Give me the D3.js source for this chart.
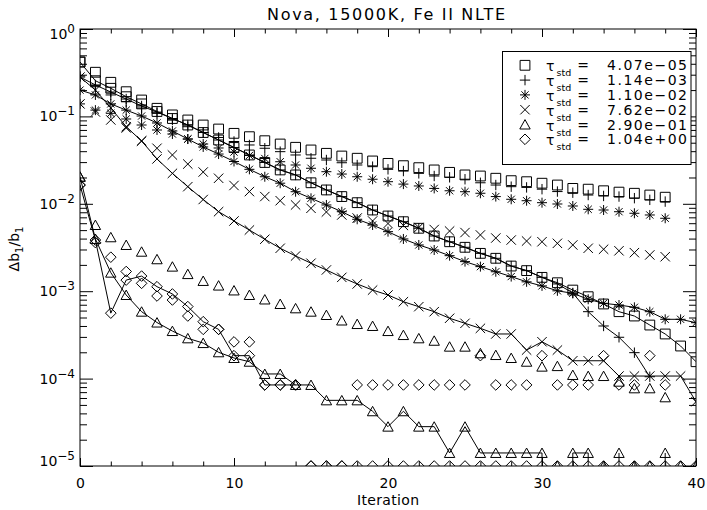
<!DOCTYPE html>
<html><head><meta charset="utf-8">
<script src="https://cdn.jsdelivr.net/npm/d3@7"></script>
<style>
body{margin:0;background:#fff}
svg text{font-family:"DejaVu Sans",sans-serif;fill:#000}
</style>
</head><body>
<svg id="c" width="707" height="510"></svg>
<script>
// ---------- data (Δb1/b1 per iteration; 0 = below the axis floor) ----------
const title = "Nova, 15000K, Fe II NLTE";
const legendTau = ["4.07e\u221205","1.14e\u221203","1.10e\u221202","7.62e\u221202","2.90e\u221201","1.04e+00"];
const xTicks = [0,10,20,30,40];
const yTicks = [1e-5,1e-4,1e-3,1e-2,1e-1,1];

// symbols only (no acceleration)
const squareOnly = [0.419,0.320,0.2456,0.1917,0.154,0.1238,0.104,0.091,0.0797,0.0717,0.0640,0.0586,0.0527,0.0483,0.0443,0.0413,0.0378,0.0352,0.0332,0.0309,0.0290,0.0273,0.0259,0.0244,0.0229,0.0214,0.0208,0.0196,0.0184,0.0179,0.0172,0.0164,0.0150,0.0147,0.0141,0.0136,0.0132,0.0126,0.0119];
const plusOnly = [0.290,0.2187,0.176,0.1473,0.1248,0.109,0.091,0.0762,0.0654,0.0574,0.0516,0.0471,0.0432,0.0395,0.0362,0.0332,0.0317,0.0295,0.0278,0.0266,0.0248,0.0237,0.0223,0.0208,0.0201,0.0191,0.0174,0.0164,0.0157,0.0154,0.0147,0.0138,0.0134,0.0126,0.0123,0.0121,0.0116,0.0111,0.0106];
const starOnly = [0.139,0.118,0.1085,0.0934,0.0797,0.0699,0.0629,0.0551,0.0483,0.0435,0.0391,0.0357,0.0330,0.0303,0.0278,0.0255,0.0233,0.0219,0.0204,0.0191,0.0179,0.0168,0.0160,0.0150,0.0141,0.01375,0.0132,0.0121,0.01126,0.01085,0.0103,0.00995,0.00944,0.00865,0.00849,0.00812,0.00779,0.00745,0.00683];
const crossOnly = [0.139,0.1123,0.091,0.0737,0.0523,0.0432,0.0362,0.0285,0.0231,0.0196,0.0162,0.0138,0.0121,0.01085,0.0097,0.00888,0.00806,0.00745,0.00688,0.00636,0.00595,0.00565,0.00536,0.00508,0.00488,0.00469,0.0044,0.00406,0.00385,0.00375,0.00368,0.00353,0.00338,0.0031,0.00302,0.0029,0.00276,0.0026,0.00248];
const triOnly = [0.0204,0.00572,0.00414,0.00338,0.00283,0.00232,0.00191,0.00157,0.00131,0.00116,0.00102,0.000905,0.000804,0.000714,0.000637,0.000583,0.000534,0.000462,0.000421,0.000400,0.000350,0.000315,0.000289,0.000271,0.000232,0.000232,0.000195,0.000186,0.000172,0.000156,0.000137,0.000139,0.000110,0.000107,0.000107,9.22e-5,7.74e-5,7.74e-5,6.11e-5];
const diamondOnly = [0.0164,0.0036,0.00245,0.00168,0.00123,0.000881,0.000793,0.00052,0.000366,0.000366,0.000263,0.000263,8.46e-5,8.46e-5,8.46e-5,0,0,0,8.46e-5,8.46e-5,8.46e-5,8.46e-5,8.46e-5,8.46e-5,8.46e-5,8.46e-5,1.83e-4,8.46e-5,8.46e-5,8.46e-5,1.83e-4,8.46e-5,8.46e-5,8.46e-5,1.83e-4,8.46e-5,8.46e-5,1.83e-4,8.46e-5];

// symbols joined by a line (accelerated)
const squareLine = [0.419,0.256,0.2097,0.168,0.139,0.1138,0.0946,0.0797,0.0654,0.0537,0.0441,0.0362,0.0297,0.0244,0.0214,0.0174,0.0144,0.0121,0.0103,0.00849,0.00725,0.00624,0.00525,0.00428,0.00368,0.00318,0.00271,0.00238,0.00194,0.00172,0.00144,0.00125,0.00103,0.000865,0.000714,0.000583,0.000520,0.000410,0.000324,0.000236,0.000156];
const plusLine = [0.282,0.229,0.190,0.158,0.1315,0.112,0.0946,0.0797,0.0654,0.0537,0.0441,0.0362,0.0297,0.0244,0.0214,0.0174,0.0144,0.0121,0.0103,0.00849,0.00725,0.00624,0.00525,0.00428,0.00368,0.00318,0.00271,0.00238,0.00194,0.00172,0.00144,0.00121,0.000955,0.000583,0.000400,0.000297,0.000198,0.000105];
const starLine = [0.2,0.176,0.139,0.118,0.101,0.0841,0.0681,0.0551,0.0447,0.0371,0.0305,0.0248,0.0204,0.0172,0.01375,0.01156,0.0097,0.00812,0.00665,0.00572,0.0048,0.00396,0.00338,0.00296,0.00255,0.00218,0.00191,0.00167,0.00147,0.00128,0.00115,0.00101,0.000946,0.000808,0.000727,0.000695,0.000654,0.000583,0.000477,0.000477,0.000436];
const crossLine = [0.282,0.2,0.125,0.0762,0.0523,0.0326,0.0223,0.0157,0.0112,0.00813,0.00636,0.00501,0.00393,0.0031,0.00253,0.00209,0.00175,0.00144,0.00121,0.00103,0.000905,0.000758,0.000665,0.000583,0.00049,0.000429,0.000376,0.000324,0.000324,0.000212,0.000264,0.000212,0.00016,0.00016,0.00016,0.000107,0.000107,0.000107,0.000107,0.000107,5.44e-5];
const triLine = [0.0204,0.00396,0.00163,0.000905,0.000583,0.000438,0.00035,0.000289,0.000255,0.0002,0.000172,0.000156,1.13e-4,1.13e-4,8.46e-5,8.46e-5,5.64e-5,5.64e-5,5.64e-5,4.23e-5,2.82e-5,4.23e-5,2.82e-5,2.82e-5,1.41e-5,2.82e-5,1.41e-5,1.41e-5,1.41e-5,1.41e-5,1.41e-5,0,1.41e-5,1.41e-5,0,1.41e-5,0,0,1.41e-5,0,0];
const diamondLine = [0.0164,0.00385,0.000561,0.00134,0.00149,0.001126,0.00093,0.000667,0.000448,0.000366,1.83e-4,1.83e-4,8.46e-5,8.46e-5,8.46e-5,0,0,0,0,0,0,0,0,0,0,0,0,0,0,0,0,0,0,0,0,0,0,0,0,0,0];

// ---------- drawing ----------
const svg = d3.select('#c');
svg.append('rect').attr('width',707).attr('height',510).attr('fill','#fff');
const x = d3.scaleLinear().domain([0,40]).range([80,696]);
const y = d3.scaleLog().domain([1e-5,1]).range([466,29]);
const yFloor = y.range()[0];
const yPos = d => d > 0 ? y(d) : yFloor;

svg.append('defs').append('clipPath').attr('id','clip').append('rect')
  .attr('x',80).attr('y',29).attr('width',616).attr('height',437);

const SYM = {
  square:'M-4.9,-4.9H4.9V4.9H-4.9Z',
  plus:'M-5.2,0H5.2M0,-5.2V5.2',
  star:'M-5,0H5M0,-5V5M-3.6,-3.6L3.6,3.6M-3.6,3.6L3.6,-3.6',
  cross:'M-4.7,-4.7L4.7,4.7M-4.7,4.7L4.7,-4.7',
  tri:'M0,-4.9L5.2,4.5L-5.2,4.5Z',
  diamond:'M0,-5.3L5.3,0L0,5.3L-5.3,0Z'
};

const series = [
  {v:squareOnly,s:'square',line:false},{v:plusOnly,s:'plus',line:false},
  {v:starOnly,s:'star',line:false},{v:crossOnly,s:'cross',line:false},
  {v:triOnly,s:'tri',line:false},{v:diamondOnly,s:'diamond',line:false},
  {v:squareLine,s:'square',line:true},{v:plusLine,s:'plus',line:true},
  {v:starLine,s:'star',line:true},{v:crossLine,s:'cross',line:true},
  {v:triLine,s:'tri',line:true,drop:true},{v:diamondLine,s:'diamond',line:true}
];

const plot = svg.append('g').attr('clip-path','url(#clip)');
const lineGen = d3.line().defined(d=>d>0).x((d,i)=>x(i)).y(d=>y(d));
series.forEach(sr=>{
  if(sr.line){
    plot.append('path').attr('d',lineGen(sr.v)).attr('fill','none')
      .attr('stroke','#000').attr('stroke-width',1);
    if(sr.drop){
      // segments towards a zero value fall straight to the floor
      sr.v.forEach((d,i)=>{
        if(d>0 && ((i+1<sr.v.length && sr.v[i+1]===0) || (i>0 && sr.v[i-1]===0))){
          plot.append('line').attr('x1',x(i)).attr('x2',x(i)).attr('y1',y(d)).attr('y2',yFloor)
            .attr('stroke','#000').attr('stroke-width',1);
        }
      });
    }
  }
  plot.selectAll(null).data(sr.v).enter().append('path')
    .attr('transform',(d,i)=>`translate(${x(i)},${yPos(d)})`)
    .attr('d',SYM[sr.s]).attr('fill','none').attr('stroke','#000').attr('stroke-width',1);
});

// ---------- axes ----------
const xMinor = d3.range(0,41,2).filter(v=>v%10!==0);
const yMinor = [];
for(let e=-5;e<0;e++) for(let m=2;m<=9;m++) yMinor.push(m*Math.pow(10,e));

function styleAxis(g){ g.select('.domain').remove(); g.selectAll('line').attr('stroke','#000'); g.attr('font-family',null).attr('font-size',null); }

const gxB = svg.append('g').attr('transform','translate(0,466)')
  .call(d3.axisBottom(x).tickValues(xTicks).tickSizeInner(-8).tickSizeOuter(0).tickPadding(12).tickFormat(d3.format('d')));
styleAxis(gxB); gxB.selectAll('text').attr('font-size',14);
svg.append('g').attr('transform','translate(0,466)')
  .call(d3.axisBottom(x).tickValues(xMinor).tickSizeInner(-4.5).tickSizeOuter(0).tickFormat('')).call(styleAxis);
svg.append('g').attr('transform','translate(0,29)')
  .call(d3.axisTop(x).tickValues(xTicks).tickSizeInner(-8).tickSizeOuter(0).tickFormat('')).call(styleAxis);
svg.append('g').attr('transform','translate(0,29)')
  .call(d3.axisTop(x).tickValues(xMinor).tickSizeInner(-4.5).tickSizeOuter(0).tickFormat('')).call(styleAxis);

const gyL = svg.append('g').attr('transform','translate(80,0)')
  .call(d3.axisLeft(y).tickValues(yTicks).tickSizeInner(-13).tickSizeOuter(0).tickPadding(5));
styleAxis(gyL);
gyL.selectAll('.tick text').each(function(d){
  const t = d3.select(this);
  const e = Math.round(Math.log10(d));
  t.text(null).attr('font-size',14)
   .attr('y', e===0 ? 5 : (e===-5 ? -5 : 0));
  t.append('tspan').text('10');
  t.append('tspan').attr('dy',-6).attr('font-size',12).text(e===0 ? '0' : '\u2212'+(-e));
});
svg.append('g').attr('transform','translate(80,0)')
  .call(d3.axisLeft(y).tickValues(yMinor).tickSizeInner(-7).tickSizeOuter(0).tickFormat('')).call(styleAxis);
svg.append('g').attr('transform','translate(696,0)')
  .call(d3.axisRight(y).tickValues(yTicks).tickSizeInner(-13).tickSizeOuter(0).tickFormat('')).call(styleAxis);
svg.append('g').attr('transform','translate(696,0)')
  .call(d3.axisRight(y).tickValues(yMinor).tickSizeInner(-7).tickSizeOuter(0).tickFormat('')).call(styleAxis);

svg.append('rect').attr('x',80).attr('y',29).attr('width',616).attr('height',437)
  .attr('fill','none').attr('stroke','#000').attr('stroke-width',1);

// ---------- titles ----------
svg.append('text').attr('x',267).attr('y',20).attr('font-size',16)
  .attr('textLength',238).attr('lengthAdjust','spacing').text(title);
svg.append('text').attr('x',388).attr('y',505).attr('font-size',14).attr('text-anchor','middle')
  .attr('textLength',62).attr('lengthAdjust','spacing').text('Iteration');
const yl = svg.append('text').attr('transform','translate(19,249) rotate(-90)')
  .attr('text-anchor','middle').attr('font-size',14);
yl.append('tspan').text('\u0394b');
yl.append('tspan').attr('font-size',10).attr('dy',4).text('1');
yl.append('tspan').attr('dy',-4).text('/b');
yl.append('tspan').attr('font-size',10).attr('dy',4).text('1');

// ---------- legend ----------
const leg = svg.append('g');
leg.append('rect').attr('x',502.5).attr('y',51.5).attr('width',188.5).attr('height',113)
  .attr('fill','#fff').attr('stroke','#000').attr('stroke-width',1);
const legSyms = ['square','plus','star','cross','tri','diamond'];
legSyms.forEach((s,k)=>{
  const cy = 65.3 + 14.8*k;
  leg.append('path').attr('transform',`translate(525,${cy})`).attr('d',SYM[s])
    .attr('fill','none').attr('stroke','#000');
  leg.append('text').attr('x',546).attr('y',cy+6).attr('font-size',14).text('\u03c4');
  leg.append('text').attr('x',556.5).attr('y',cy+11).attr('font-size',9.5).text('std');
  leg.append('text').attr('x',583).attr('y',cy+5).attr('font-size',14).attr('text-anchor','middle').text('=');
  leg.append('text').attr('x',607).attr('y',cy+5).attr('font-size',14)
    .attr('textLength',80).attr('lengthAdjust','spacing').text(legendTau[k]);
});
</script>
</body></html>
